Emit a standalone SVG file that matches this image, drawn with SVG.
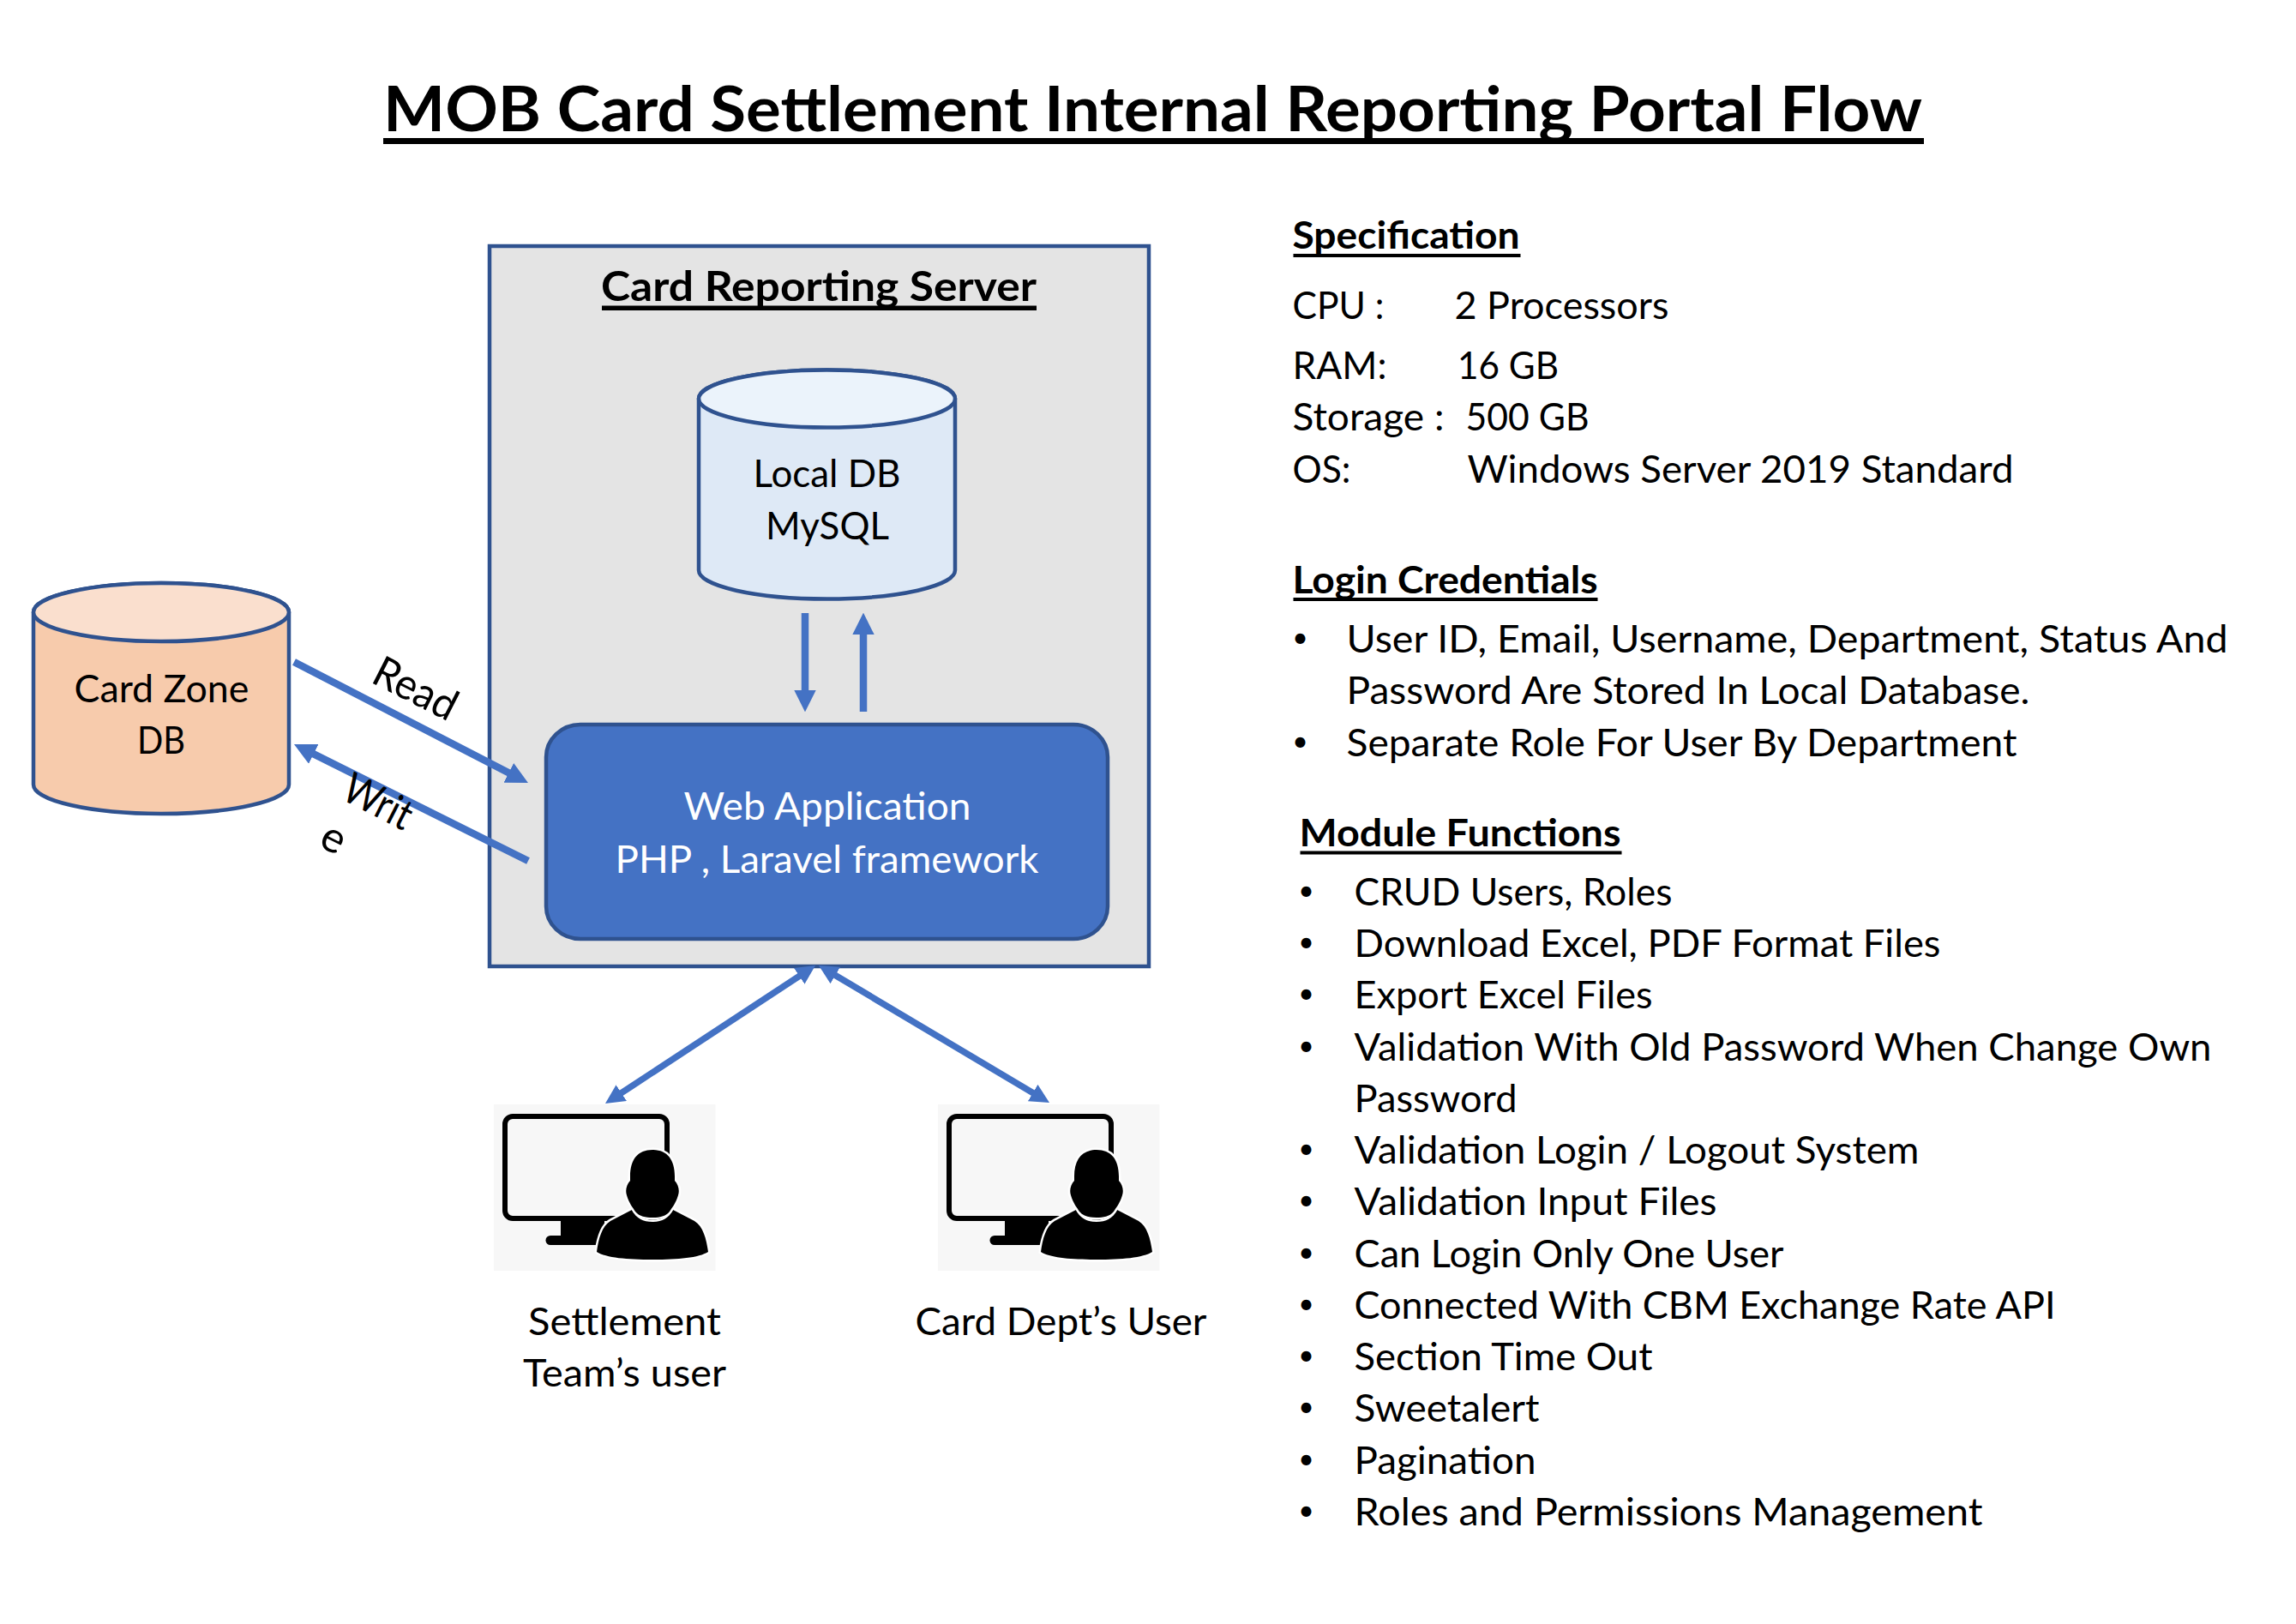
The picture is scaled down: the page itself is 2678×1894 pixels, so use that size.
<svg xmlns="http://www.w3.org/2000/svg" xmlns:xlink="http://www.w3.org/1999/xlink" width="2678" height="1894" viewBox="0 0 2678 1894">
<style>
text{font-family:"Lato","Liberation Sans",sans-serif;font-size:44px;fill:#000}
.b{font-weight:700}
.w{fill:#fff}
.m{text-anchor:middle;font-size:32px}
.t{font-size:50px}
.ul{fill:#000}
.cyl{stroke:#2F528F;stroke-width:4.500}
.arr{stroke:#4472C4;fill:none}
</style>
<defs>
<marker id="ah" markerUnits="strokeWidth" markerWidth="3" markerHeight="3" refX="0.25" refY="1.5" orient="auto-start-reverse" viewBox="0 0 3 3"><path d="M0,0L3,1.5L0,3Z" fill="#4472C4"/></marker>
<g id="user-icon">
<rect x="576" y="1288" width="258.500" height="194" fill="#F7F7F7"/>
<rect x="589" y="1302" width="189" height="119" rx="9" fill="none" stroke="#000" stroke-width="6"/>
<path d="M654,1424H705V1442H654Z" fill="#000"/>
<path d="M642,1441H700V1452H642A5.500,5.500 0 0 1 642,1441Z" fill="#000"/>
<path d="M696,1460C698,1445 702,1430 712,1424L737,1411C742,1421 750,1425 761,1425C772,1425 780,1421 785,1411L810,1424C820,1430 824,1445 826,1460C815,1467 790,1469 761,1469C732,1469 707,1467 696,1460Z" fill="#000" stroke="#fff" stroke-width="5" paint-order="stroke"/>
<path d="M761,1341C744,1341 735,1352 735,1372L735,1377C731,1381 729,1388 731,1394C734,1404 738,1408 741,1413C746,1419 753,1420 761,1420C769,1420 776,1419 781,1413C784,1408 788,1404 791,1394C793,1388 791,1381 787,1377L787,1372C787,1352 778,1341 761,1341Z" fill="#000" stroke="#fff" stroke-width="5" paint-order="stroke"/>
</g>
</defs>
<rect width="2678" height="1894" fill="#fff"/>

<g id="title">
<text class="b" x="447" y="153" style="font-size:72px" textLength="1795" lengthAdjust="spacingAndGlyphs">MOB Card Settlement Internal Reporting Portal Flow</text>
<rect class="ul" x="447" y="161" width="1797" height="7"/>
</g>

<g id="card-reporting-server">
<rect x="571" y="287" width="769" height="840" fill="#E4E4E4" stroke="#2F528F" stroke-width="4.500"/>
<text class="b" x="701" y="351" style="font-size:47px" textLength="508" lengthAdjust="spacingAndGlyphs">Card Reporting Server</text>
<rect class="ul" x="702" y="356.500" width="507" height="5.500"/>
</g>

<g id="local-db">
<path class="cyl" fill="#DEE9F6" d="M815,465V665A149.500,33.500 0 0 0 1114,665V465A149.500,33.500 0 0 0 815,465Z"/>
<ellipse class="cyl" fill="#EBF3FB" cx="964.500" cy="465" rx="149.500" ry="33.500"/>
<text x="878.500" y="567.500" textLength="172" lengthAdjust="spacingAndGlyphs">Local DB</text>
<text x="893" y="628.500" textLength="144" lengthAdjust="spacingAndGlyphs">MySQL</text>
</g>

<g id="web-application">
<rect x="637" y="845" width="655" height="250" rx="40" ry="38" fill="#4472C4" stroke="#2F528F" stroke-width="4.500"/>
<text class="w" x="797.500" y="956" textLength="335" lengthAdjust="spacingAndGlyphs">Web Application</text>
<text class="w" x="717.500" y="1017.500" textLength="494" lengthAdjust="spacingAndGlyphs">PHP , Laravel framework</text>
</g>

<g id="card-zone-db">
<path class="cyl" fill="#F7CBAC" d="M39,714V915A149,34 0 0 0 337,915V714A149,34 0 0 0 39,714Z"/>
<ellipse class="cyl" fill="#FADFCE" cx="188" cy="714" rx="149" ry="34"/>
<text x="86.500" y="818.500" textLength="204" lengthAdjust="spacingAndGlyphs">Card Zone</text>
<text x="160" y="878.500" textLength="56" lengthAdjust="spacingAndGlyphs">DB</text>
</g>

<g id="connectors">
<line class="arr" stroke-width="8.500" x1="343" y1="772" x2="595.200" y2="902.300" marker-end="url(#ah)"/>
<line class="arr" stroke-width="8.500" x1="616" y1="1004" x2="363.900" y2="878.400" marker-end="url(#ah)"/>
<line class="arr" stroke-width="8.500" x1="939" y1="715" x2="939" y2="807" marker-end="url(#ah)"/>
<line class="arr" stroke-width="8.500" x1="1007" y1="830" x2="1007" y2="738" marker-end="url(#ah)"/>
<line class="arr" stroke-width="7.500" x1="723.200" y1="1275.700" x2="933.800" y2="1137.300" marker-start="url(#ah)" marker-end="url(#ah)"/>
<line class="arr" stroke-width="7.500" x1="972.700" y1="1136.500" x2="1206.300" y2="1275.500" marker-start="url(#ah)" marker-end="url(#ah)"/>
</g>

<g id="connector-labels">
<text class="t" transform="translate(431 795) rotate(27)" textLength="103" lengthAdjust="spacingAndGlyphs">Read</text>
<text class="t" transform="translate(396 931) rotate(27)" textLength="84" lengthAdjust="spacingAndGlyphs">Writ</text>
<text class="t" transform="translate(370 986) rotate(27)">e</text>
</g>

<g id="settlement-user">
<use href="#user-icon"/>
<text x="616" y="1557" textLength="225" lengthAdjust="spacingAndGlyphs">Settlement</text>
<text x="610" y="1617" textLength="237" lengthAdjust="spacingAndGlyphs">Team’s user</text>
</g>

<g id="card-dept-user">
<use href="#user-icon" x="518"/>
<text x="1067.500" y="1557" textLength="340" lengthAdjust="spacingAndGlyphs">Card Dept’s User</text>
</g>

<g id="specification" transform="translate(-1.500 1)">
<text class="b" x="1509" y="289" textLength="265" lengthAdjust="spacingAndGlyphs">Specification</text>
<rect class="ul" x="1510" y="295" width="265" height="4"/>
<text y="371"><tspan x="1509" textLength="107" lengthAdjust="spacingAndGlyphs">CPU :</tspan> <tspan x="1698" textLength="250" lengthAdjust="spacingAndGlyphs">2 Processors</tspan></text>
<text y="441"><tspan x="1509" textLength="110" lengthAdjust="spacingAndGlyphs">RAM:</tspan> <tspan x="1701.500" textLength="118" lengthAdjust="spacingAndGlyphs">16 GB</tspan></text>
<text y="501"><tspan x="1509" textLength="177" lengthAdjust="spacingAndGlyphs">Storage :</tspan> <tspan x="1711" textLength="144" lengthAdjust="spacingAndGlyphs">500 GB</tspan></text>
<text y="561.500"><tspan x="1509" textLength="68" lengthAdjust="spacingAndGlyphs">OS:</tspan> <tspan x="1713" textLength="637" lengthAdjust="spacingAndGlyphs">Windows Server 2019 Standard</tspan></text>
</g>

<g id="login-credentials" transform="translate(-1.500 0.500)">
<text class="b" x="1509" y="691" textLength="356" lengthAdjust="spacingAndGlyphs">Login Credentials</text>
<rect class="ul" x="1510" y="696.500" width="355" height="4"/>
<text class="m" x="1518" y="754">•</text>
<text x="1572" y="760.500" textLength="1028" lengthAdjust="spacingAndGlyphs">User ID, Email, Username, Department, Status And</text>
<text x="1572" y="820.500" textLength="797" lengthAdjust="spacingAndGlyphs">Password Are Stored In Local Database.</text>
<text class="m" x="1518" y="875">•</text>
<text x="1572" y="881.500" textLength="782" lengthAdjust="spacingAndGlyphs">Separate Role For User By Department</text>
</g>

<g id="module-functions" transform="translate(-1.500 0.500)">
<text class="b" x="1517" y="986" textLength="375" lengthAdjust="spacingAndGlyphs">Module Functions</text>
<rect class="ul" x="1518" y="992" width="375" height="4"/>
<text class="m" x="1525" y="1049">•</text><text x="1581" y="1055" textLength="371" lengthAdjust="spacingAndGlyphs">CRUD Users, Roles</text>
<text class="m" x="1525" y="1109">•</text><text x="1581" y="1115.500" textLength="684" lengthAdjust="spacingAndGlyphs">Download Excel, PDF Format Files</text>
<text class="m" x="1525" y="1169">•</text><text x="1581" y="1175.500" textLength="348" lengthAdjust="spacingAndGlyphs">Export Excel Files</text>
<text class="m" x="1525" y="1230">•</text><text x="1581" y="1236" textLength="1000" lengthAdjust="spacingAndGlyphs">Validation With Old Password When Change Own</text>
<text x="1581" y="1296.500" textLength="190" lengthAdjust="spacingAndGlyphs">Password</text>
<text class="m" x="1525" y="1350">•</text><text x="1581" y="1356.500" textLength="659" lengthAdjust="spacingAndGlyphs">Validation Login / Logout System</text>
<text class="m" x="1525" y="1410">•</text><text x="1581" y="1416.500" textLength="423" lengthAdjust="spacingAndGlyphs">Validation Input Files</text>
<text class="m" x="1525" y="1471">•</text><text x="1581" y="1477" textLength="501" lengthAdjust="spacingAndGlyphs">Can Login Only One User</text>
<text class="m" x="1525" y="1531">•</text><text x="1581" y="1537.500" textLength="818" lengthAdjust="spacingAndGlyphs">Connected With CBM Exchange Rate API</text>
<text class="m" x="1525" y="1591">•</text><text x="1581" y="1597.500" textLength="348" lengthAdjust="spacingAndGlyphs">Section Time Out</text>
<text class="m" x="1525" y="1651">•</text><text x="1581" y="1657.500" textLength="216" lengthAdjust="spacingAndGlyphs">Sweetalert</text>
<text class="m" x="1525" y="1712">•</text><text x="1581" y="1718" textLength="212" lengthAdjust="spacingAndGlyphs">Pagination</text>
<text class="m" x="1525" y="1772">•</text><text x="1581" y="1778.500" textLength="733" lengthAdjust="spacingAndGlyphs">Roles and Permissions Management</text>
</g>
</svg>
